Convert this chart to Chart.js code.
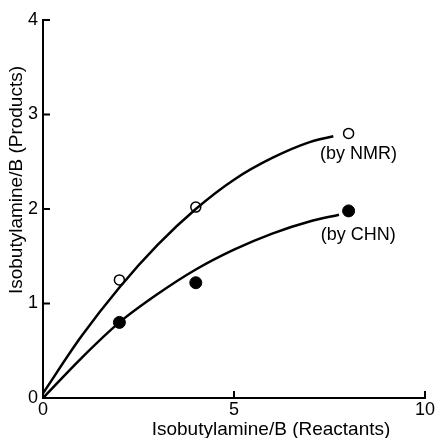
<!DOCTYPE html>
<html>
<head>
<meta charset="utf-8">
<script src="https://cdn.jsdelivr.net/npm/chart.js@4/dist/chart.umd.min.js"></script>
<style>
  html, body { margin: 0; padding: 0; background: #fff; }
  #wrap { width: 435px; height: 438px; }
</style>
</head>
<body>
<div id="wrap"><canvas id="myChart" width="435" height="438"></canvas></div>
<script>
// measured points
const nmrX = [2, 4, 8];
const nmrY = [1.25, 2.02, 2.8];
const chnX = [2, 4, 8];
const chnY = [0.8, 1.22, 1.98];

// fitted curves
const nmrCurveX = [0, 1, 2, 3, 4, 5, 6, 7, 7.6];
const nmrCurveY = [0.05, 0.65, 1.17, 1.62, 2.0, 2.31, 2.54, 2.71, 2.77];
const chnCurveX = [0, 1, 2, 3, 4, 5, 6, 7, 7.75];
const chnCurveY = [0, 0.42, 0.8, 1.1, 1.36, 1.57, 1.74, 1.87, 1.94];

const xTicks = [0, 5, 10];
const yTicks = [0, 1, 2, 3, 4];

const xTitle = 'Isobutylamine/B (Reactants)';
const yTitle = 'Isobutylamine/B (Products)';

const labelsText = [
    { text: '(by NMR)', x: 7.25, y: 2.58 },
    { text: '(by CHN)', x: 7.27, y: 1.72 },
];

const font = 'Liberation Sans, Arial, Helvetica, sans-serif';
const pts = (xs, ys) => xs.map((x, i) => ({ x: x, y: ys[i] }));

// inward ticks, axis titles, curve labels
const extras = {
    id: 'extras',
    afterDraw(chart) {
        const c = chart.ctx;
        const xs = chart.scales.x, ys = chart.scales.y;
        const area = chart.chartArea;
        c.save();
        c.strokeStyle = '#000';
        c.lineWidth = 2;
        c.beginPath();
        yTicks.forEach(v => {
            const py = ys.getPixelForValue(v);
            c.moveTo(area.left, py);
            c.lineTo(area.left + 7, py);
        });
        xTicks.forEach(v => {
            const px = xs.getPixelForValue(v);
            c.moveTo(px, area.bottom);
            c.lineTo(px, area.bottom - 7);
        });
        c.stroke();
        c.fillStyle = '#000';
        c.font = '18px ' + font;
        c.textBaseline = 'middle';
        c.textAlign = 'left';
        labelsText.forEach(l => {
            c.fillText(l.text, xs.getPixelForValue(l.x), ys.getPixelForValue(l.y));
        });
        // axis titles (offset from the plot centre as in the original)
        c.font = '19px ' + font;
        c.textAlign = 'center';
        c.fillText(xTitle, 271, 430);
        c.translate(17, 180);
        c.rotate(-Math.PI / 2);
        c.fillText(yTitle, 0, 0);
        c.restore();
    }
};

const ctx = document.getElementById('myChart').getContext('2d');
new Chart(ctx, {
    type: 'scatter',
    data: {
        datasets: [
            {
                type: 'line',
                data: pts(nmrCurveX, nmrCurveY),
                borderColor: '#000',
                borderWidth: 2.5,
                pointRadius: 0,
                cubicInterpolationMode: 'monotone',
                fill: false,
            },
            {
                type: 'line',
                data: pts(chnCurveX, chnCurveY),
                borderColor: '#000',
                borderWidth: 2.5,
                pointRadius: 0,
                cubicInterpolationMode: 'monotone',
                fill: false,
            },
            {
                data: pts(nmrX, nmrY),
                pointRadius: 5,
                pointBackgroundColor: '#fff',
                pointBorderColor: '#000',
                pointBorderWidth: 1.5,
            },
            {
                data: pts(chnX, chnY),
                pointRadius: 6,
                pointBackgroundColor: '#000',
                pointBorderColor: '#000',
                pointBorderWidth: 1,
            },
        ]
    },
    options: {
        responsive: false,
        animation: false,
        layout: { padding: { top: 20, right: 10, left: 0, bottom: 0 } },
        plugins: {
            legend: { display: false },
            tooltip: { enabled: false },
        },
        scales: {
            x: {
                type: 'linear',
                min: 0, max: 10,
                afterBuildTicks: s => { s.ticks = xTicks.map(v => ({ value: v })); },
                afterFit: s => { s.height = 40; s.paddingRight = 0; s.paddingLeft = 0; },
                grid: { display: false, drawTicks: false },
                border: { display: true, color: '#000', width: 2 },
                ticks: { color: '#000', padding: 3, font: { family: font, size: 18, lineHeight: 1 } },
            },
            y: {
                type: 'linear',
                min: 0, max: 4,
                afterBuildTicks: s => { s.ticks = yTicks.map(v => ({ value: v })); },
                afterFit: s => { s.width = 43; },
                grid: { display: false, drawTicks: false },
                border: { display: true, color: '#000', width: 2 },
                ticks: { color: '#000', padding: 5, font: { family: font, size: 18 } },
            },
        },
    },
    plugins: [extras],
});
</script>
</body>
</html>
